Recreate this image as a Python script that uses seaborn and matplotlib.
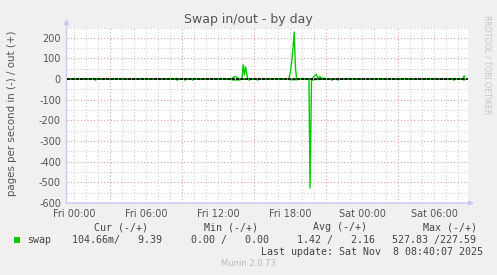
import matplotlib
matplotlib.use("Agg")
import matplotlib.pyplot as plt
import seaborn as sns
import pandas as pd
import numpy as np

# ---- data (hours relative to Fri 00:00) ----
out_hours = [-0.58, 13.1, 13.3, 13.42, 13.58, 13.75, 14.0, 14.1, 14.2, 14.3, 14.4, 14.5,
             17.9, 18.05, 18.17, 18.25, 18.35, 18.45, 18.55,
             19.8, 20.0, 20.1, 20.2, 20.33, 20.5, 20.67, 20.83, 21.0,
             32.4, 32.5, 32.58]
out_values = [0, 0, 10, 13, 8, 0, 0, 70, 20, 60, 25, 0,
              0, 40, 100, 150, 227.6, 60, 0,
              0, 12, 18, 22, 5, 12, 2, 5, 0,
              0, 16, 9.39]

in_hours = [-0.58, 1.7, 1.8, 1.9, 8.5, 8.6, 8.7, 9.15, 9.25, 9.35, 9.8, 9.9, 10.0,
            13.0, 13.2, 13.8, 14.0, 14.5, 14.6, 14.7, 15.2, 15.3, 15.4,
            17.9, 18.0, 18.6, 18.7, 19.58, 19.67, 19.79, 19.9, 20.9,
            21.4, 21.5, 21.6, 21.9, 22.0, 22.1,
            31.55, 31.65, 31.75, 32.4, 32.5, 32.58]
in_values = [0, 0, 5, 0, 0, 5, 0, 0, 5, 0, 0, 5, 0,
             0, 4, 4, 0, 0, 5, 0, 0, 5, 0,
             0, 3, 3, 0, 0, 527.8, 8, 3, 0,
             0, 5, 0, 0, 5, 0,
             0, 5, 0, 0, 5, 0.105]

xtick_hours = [0, 6, 12, 18, 24, 30]
xtick_labels = ["Fri 00:00", "Fri 06:00", "Fri 12:00", "Fri 18:00", "Sat 00:00", "Sat 06:00"]
ytick_values = [-600, -500, -400, -300, -200, -100, 0, 100, 200]

legend_headers = ["Cur (-/+)", "Min (-/+)", "Avg (-/+)", "Max (-/+)"]
legend_values = ["104.66m/   9.39", "0.00 /   0.00", "1.42 /   2.16", "527.83 /227.59"]
series_name = "swap"
last_update = "Last update: Sat Nov  8 08:40:07 2025"

W, H = 497, 275
sns.set_theme(style="white")
plt.rcParams["font.family"] = ["DejaVu Sans"]

fig = plt.figure(figsize=(W / 100, H / 100), dpi=100, facecolor="#F0F0F0")
L, R, T, B = 66.5, 468, 27.5, 203
ax = fig.add_axes([L / W, 1 - B / H, (R - L) / W, (B - T) / H])
ax.set_facecolor("white")

GREEN = "#00CC00"
df_out = pd.DataFrame({"h": out_hours, "v": out_values})
df_in = pd.DataFrame({"h": in_hours, "v": -np.array(in_values)})
sns.lineplot(data=df_out, x="h", y="v", ax=ax, color=GREEN, lw=1.0, estimator=None, sort=False, zorder=3)
sns.lineplot(data=df_in, x="h", y="v", ax=ax, color=GREEN, lw=1.0, estimator=None, sort=False, zorder=3)
ax.axhline(0, color="black", lw=1.2, ls=(0, (2, 0.6)), zorder=4)

ax.set_xlim(-0.62, 32.83)
ax.set_ylim(-600, 250)

# grid
for h in np.arange(-0, 33, 1):
    c = "#e4a0a0" if (h % 6 == 3) else "#cfcfcf"
    ax.axvline(h, color=c, lw=0.8, ls=(0, (1, 2)), zorder=1)
for v in np.arange(-550, 251, 50):
    if v == 0:
        continue
    c = "#e4a0a0" if (v % 100 == 0) else "#cfcfcf"
    ax.axhline(v, color=c, lw=0.8, ls=(0, (1, 2)), zorder=1)

ax.grid(False)
for s in ax.spines.values():
    s.set_visible(False)
ax.set_xticks(xtick_hours)
ax.set_xticklabels(xtick_labels)
ax.set_yticks(ytick_values)
ax.set_yticklabels([str(v) for v in ytick_values])
ax.tick_params(axis="both", length=0, labelsize=7, labelcolor="#555555")
ax.tick_params(axis="x", pad=4)
ax.tick_params(axis="y", pad=4)
ax.set_xlabel("")
ax.set_ylabel("")

def px(x, y):
    return (x / W, 1 - y / H)

# axis arrows
AX = "#c8c8f0"
ax.annotate("", xy=(L, H - 19), xytext=(L, H - B), xycoords="figure pixels",
            textcoords="figure pixels",
            arrowprops=dict(arrowstyle="-|>", color=AX, lw=1, mutation_scale=7, shrinkA=0, shrinkB=0))
ax.annotate("", xy=(474, H - B), xytext=(L, H - B), xycoords="figure pixels",
            textcoords="figure pixels",
            arrowprops=dict(arrowstyle="-|>", color=AX, lw=1, mutation_scale=7, shrinkA=0, shrinkB=0))

fig.text(*px(248, 23), "Swap in/out - by day", ha="center", va="baseline", fontsize=9, color="#555555")
fig.text(*px(12.5, 113), "pages per second in (-) / out (+)", ha="center", va="center",
         rotation=90, fontsize=7.4, color="#555555")
fig.text(*px(487, 15), "RRDTOOL / TOBI OETIKER", ha="center", va="top", rotation=270,
         fontsize=5.6, color="#c4c4c4")

mono = "DejaVu Sans Mono"
hx = [94, 204, 313, 423]
for x, t in zip(hx, legend_headers):
    fig.text(*px(x, 230), t, ha="left", va="baseline", fontsize=7.2, family=mono, color="#444444")
vx = [72, 191, 297, 392]
for x, t in zip(vx, legend_values):
    fig.text(*px(x, 243), t, ha="left", va="baseline", fontsize=7.2, family=mono, color="#444444")
fig.text(*px(27, 243), series_name, ha="left", va="baseline", fontsize=7.2, family=mono, color="#444444")
fig.patches.append(plt.Rectangle(px(14, 243), 6 / W, 6 / H, transform=fig.transFigure,
                                 facecolor=GREEN, edgecolor="none"))
fig.text(*px(483, 255), last_update, ha="right", va="baseline", fontsize=7.2, family=mono, color="#444444")
fig.text(*px(248, 266.5), "Munin 2.0.73", ha="center", va="baseline", fontsize=6, color="#bbbbbb")

fig.savefig("out.png", dpi=100, facecolor=fig.get_facecolor())
